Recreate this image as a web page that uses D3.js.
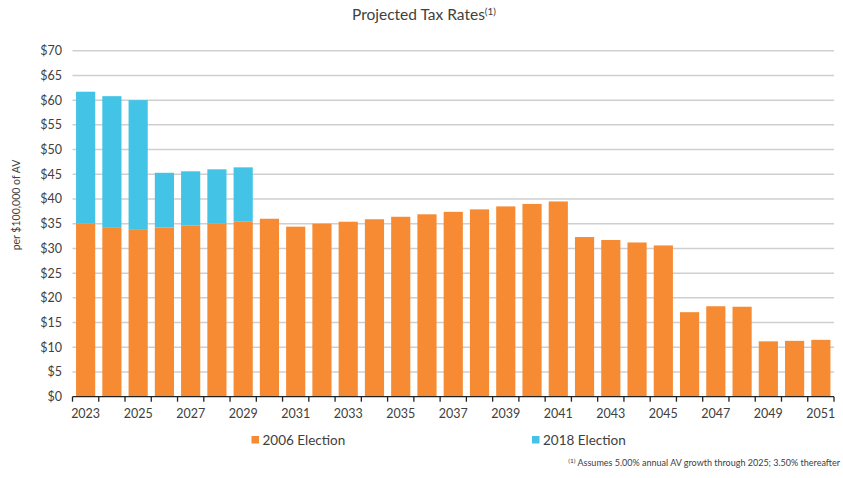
<!DOCTYPE html>
<html>
<head>
<meta charset="utf-8">
<script src="https://cdn.jsdelivr.net/npm/d3@7"></script>
<style>
  html, body { margin: 0; padding: 0; background: #fff; }
  svg { display: block; font-family: Lato, "Open Sans", sans-serif; }
</style>
</head>
<body>
<svg id="chart" width="843" height="478"></svg>
<script>
// Projected tax rates per $100,000 of assessed value
const years = d3.range(2023, 2052).map(String);
const election2006 = [35.0, 34.3, 33.9, 34.2, 34.6, 35.0, 35.4, 36.0, 34.4, 35.0,
                      35.4, 35.9, 36.4, 36.9, 37.4, 37.9, 38.5, 39.0, 39.5, 32.3,
                      31.7, 31.2, 30.6, 17.1, 18.3, 18.2, 11.2, 11.3, 11.5];
const election2018 = [26.7, 26.5, 26.1, 11.1, 11.0, 11.0, 11.0, 0, 0, 0,
                      0, 0, 0, 0, 0, 0, 0, 0, 0, 0,
                      0, 0, 0, 0, 0, 0, 0, 0, 0];
const yTicks = d3.range(0, 75, 5);
const seriesNames = ["2006 Election", "2018 Election"];
const colors = ["#F68B33", "#43C3E5"];

const svg = d3.select("#chart");
const margin = { left: 72.5, right: 9, top: 50.7, bottom: 81.3 };
const W = 843, H = 478;

const x = d3.scaleBand().domain(years)
  .range([margin.left, W - margin.right]).paddingInner(0.27).paddingOuter(0.135);
const y = d3.scaleLinear().domain([0, 70]).range([H - margin.bottom, margin.top]);

const rows = years.map((yr, i) => ({ year: yr, e2006: election2006[i], e2018: election2018[i] }));
const stack = d3.stack().keys(["e2006", "e2018"])(rows);

// horizontal gridlines
svg.append("g").selectAll("line").data(yTicks.filter(d => d > 0)).join("line")
  .attr("x1", margin.left).attr("x2", W - margin.right)
  .attr("y1", d => y(d)).attr("y2", d => y(d))
  .attr("stroke", "#cfcfcf").attr("stroke-width", 1.5);

// y tick labels
svg.append("g").selectAll("text").data(yTicks).join("text")
  .attr("x", 62).attr("y", d => y(d)).attr("dy", "0.35em")
  .attr("text-anchor", "end").attr("font-size", 12.5).attr("fill", "#404040")
  .text(d => "$" + d);

// stacked bars
svg.append("g").selectAll("g").data(stack).join("g")
  .attr("fill", (d, i) => colors[i])
  .selectAll("rect").data(d => d.filter(p => p[1] > p[0])).join("rect")
  .attr("x", d => x(d.data.year))
  .attr("width", x.bandwidth())
  .attr("y", d => y(d[1]))
  .attr("height", d => y(d[0]) - y(d[1]));

// x axis: baseline, ticks at category boundaries, labels every other year
const step = x.step();
const x0 = margin.left;
const baseY = y(0);
const ax = svg.append("g");
ax.append("line").attr("x1", x0).attr("x2", W - margin.right)
  .attr("y1", baseY).attr("y2", baseY).attr("stroke", "#222").attr("stroke-width", 1.3);
ax.selectAll("line.tick").data(d3.range(years.length + 1)).join("line")
  .attr("class", "tick")
  .attr("x1", i => x0 + i * step).attr("x2", i => x0 + i * step)
  .attr("y1", baseY).attr("y2", baseY + 5)
  .attr("stroke", "#222").attr("stroke-width", 1.3);
ax.selectAll("text").data(years.filter((d, i) => i % 2 === 0)).join("text")
  .attr("x", d => x(d) + x.bandwidth() / 2)
  .attr("y", 418)
  .attr("text-anchor", "middle").attr("font-size", 12.5).attr("fill", "#404040")
  .text(d => d);

// y axis title
svg.append("text")
  .attr("transform", "translate(20,205) rotate(-90)")
  .attr("text-anchor", "middle").attr("font-size", 10.5).attr("fill", "#404040")
  .text("per $100,000 of AV");

// chart title with superscript note marker
const title = svg.append("text").attr("x", 424).attr("y", 20)
  .attr("text-anchor", "middle").attr("font-size", 15.5).attr("fill", "#404040");
title.append("tspan").text("Projected Tax Rates");
title.append("tspan").attr("font-size", 10).attr("dy", -5).text("(1)");

// legend
const legendX = [251.5, 532];
const lg = svg.append("g").selectAll("g").data(seriesNames).join("g")
  .attr("transform", (d, i) => `translate(${legendX[i]},436)`);
lg.append("rect").attr("width", 7.5).attr("height", 7.5).attr("fill", (d, i) => colors[i]);
lg.append("text").attr("x", 11).attr("y", 8.5).attr("font-size", 13.5).attr("fill", "#404040")
  .text(d => d);

// footnote
const note = svg.append("text").attr("x", 840).attr("y", 466)
  .attr("text-anchor", "end").attr("font-size", 9).attr("fill", "#404040");
note.append("tspan").attr("font-size", 6.5).attr("dy", -3).text("(1)");
note.append("tspan").attr("dy", 3).text(" Assumes 5.00% annual AV growth through 2025; 3.50% thereafter");
</script>
</body>
</html>
